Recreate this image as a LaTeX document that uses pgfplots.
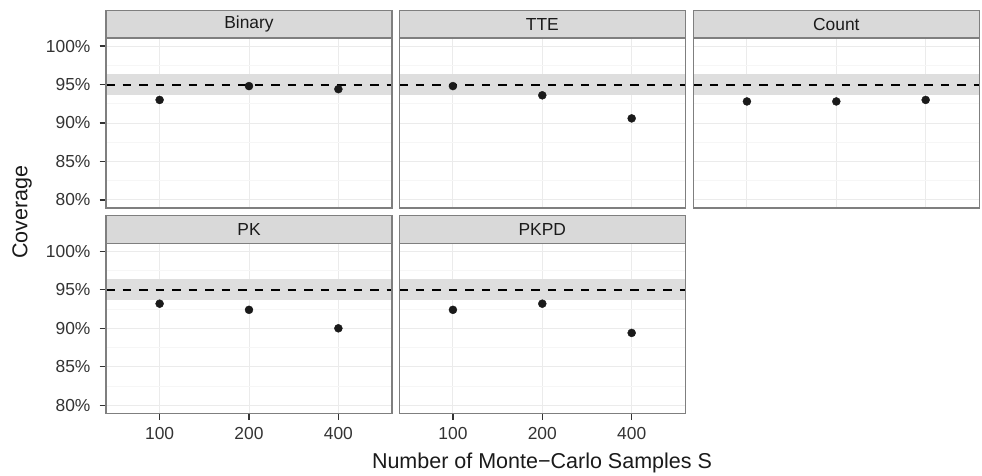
\documentclass[border=0pt]{standalone}
\usepackage{fontspec}
\setmainfont{Liberation Sans}
\usepackage{pgfplots}
\pgfplotsset{compat=1.18}
\definecolor{stripfill}{HTML}{D9D9D9}
\definecolor{panelborder}{HTML}{7F7F7F}
\definecolor{bandfill}{HTML}{DEDEDE}
\definecolor{gridmajor}{HTML}{EBEBEB}
\definecolor{gridminor}{HTML}{F6F6F6}
\definecolor{textdark}{HTML}{333333}
\definecolor{pointcol}{HTML}{1A1A1A}
\newcommand{\ticksize}{\fontsize{17.4}{20}\selectfont}
\newcommand{\titlesize}{\fontsize{21.5}{25}\selectfont}
\pgfplotsset{
  facet/.style 2 args={
    at={#1}, anchor=south west,
    scale only axis, width=286pt, height=170pt,
    xmin=0.4, xmax=3.6, ymin=78.95, ymax=101.05,
    xtick={1,2,3}, ytick={80,85,90,95,100},
    minor ytick={82.5,87.5,92.5,97.5},
    xticklabels={}, yticklabels={},
    grid=both,
    major grid style={draw=gridmajor, line width=0.9pt},
    minor grid style={draw=gridminor, line width=0.9pt},
    axis line style={draw=panelborder, line width=1.1pt},
    tick style={draw=textdark, line width=1.3pt},
    major tick length=6.5pt, minor tick length=0pt,
    tick align=outside, xtick pos=bottom, ytick pos=left,
    /pgf/number format/assume math mode=true,
    ticklabel style={font=\ticksize, text=textdark},
    yticklabel style={xshift=-5.5pt},
    xticklabel style={yshift=-4.5pt},
    clip=false,
    after end axis/.code={
      \draw[panelborder, line width=1.1pt] (rel axis cs:0,0) rectangle (rel axis cs:1,1);
      \draw[panelborder, line width=1.1pt, fill=stripfill] (rel axis cs:0,1) rectangle ([yshift=27.5pt]rel axis cs:1,1);
      \node[font=\ticksize, text=pointcol] at ([yshift=13.75pt]rel axis cs:0.5,1) {#2};
    },
  },
  noxt/.style={xtick style={draw=none}},
  noyt/.style={ytick style={draw=none}},
  ylab/.style={yticklabels={80\%,85\%,90\%,95\%,100\%}},
  xlab/.style={xticklabels={100,200,400}},
  band/.style={draw=none, fill=bandfill, forget plot},
  refline/.style={draw=black, line width=2pt, dash pattern=on 8.5pt off 8pt, forget plot},
  pts/.style={only marks, mark=*, mark size=4pt, mark options={fill=pointcol, draw=pointcol, line width=0.4pt}},
}
\begin{document}
\begin{tikzpicture}
\path[use as bounding box] (0,0) rectangle (982pt,475pt);

% Binary
\begin{axis}[facet={(106pt,267pt)}{Binary}, ylab, noxt]
\addplot[band] coordinates {(0.4,93.65) (3.6,93.65) (3.6,96.35) (0.4,96.35)} -- cycle;
\addplot[refline] coordinates {(0.4,95) (3.6,95)};
\addplot[pts] coordinates {(1,93.0) (2,94.8) (3,94.4)};
\end{axis}

% TTE
\begin{axis}[facet={(399.3pt,267pt)}{TTE}, noxt, noyt]
\addplot[band] coordinates {(0.4,93.65) (3.6,93.65) (3.6,96.35) (0.4,96.35)} -- cycle;
\addplot[refline] coordinates {(0.4,95) (3.6,95)};
\addplot[pts] coordinates {(1,94.8) (2,93.6) (3,90.6)};
\end{axis}

% Count
\begin{axis}[facet={(693.3pt,267pt)}{Count}, noxt, noyt]
\addplot[band] coordinates {(0.4,93.65) (3.6,93.65) (3.6,96.35) (0.4,96.35)} -- cycle;
\addplot[refline] coordinates {(0.4,95) (3.6,95)};
\addplot[pts] coordinates {(1,92.8) (2,92.8) (3,93.0)};
\end{axis}

% PK
\begin{axis}[facet={(106pt,61.7pt)}{PK}, ylab, xlab]
\addplot[band] coordinates {(0.4,93.65) (3.6,93.65) (3.6,96.35) (0.4,96.35)} -- cycle;
\addplot[refline] coordinates {(0.4,95) (3.6,95)};
\addplot[pts] coordinates {(1,93.2) (2,92.4) (3,90.0)};
\end{axis}

% PKPD
\begin{axis}[facet={(399.3pt,61.7pt)}{PKPD}, xlab, noyt]
\addplot[band] coordinates {(0.4,93.65) (3.6,93.65) (3.6,96.35) (0.4,96.35)} -- cycle;
\addplot[refline] coordinates {(0.4,95) (3.6,95)};
\addplot[pts] coordinates {(1,92.4) (2,93.2) (3,89.4)};
\end{axis}

\node[rotate=90, font=\titlesize, text=pointcol] at (22pt,263pt) {Coverage};
\node[font=\titlesize, text=pointcol] at (542pt,12pt) {Number of Monte−Carlo Samples S};
\end{tikzpicture}
\end{document}
